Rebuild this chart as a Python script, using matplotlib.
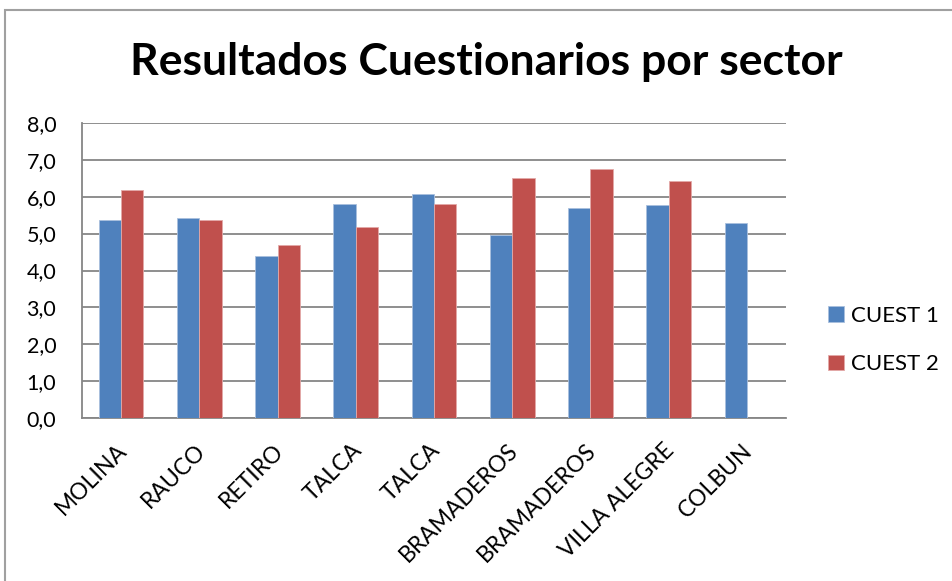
import matplotlib
matplotlib.use("Agg")
import matplotlib.pyplot as plt
import matplotlib.transforms as mtransforms
import numpy as np
from matplotlib.patches import Rectangle

categories = ["MOLINA", "RAUCO", "RETIRO", "TALCA", "TALCA", "BRAMADEROS",
              "BRAMADEROS", "VILLA ALEGRE", "COLBUN"]
cuest1 = [5.37, 5.42, 4.39, 5.79, 6.08, 4.96, 5.68, 5.77, 5.29]
cuest2 = [6.19, 5.37, 4.70, 5.19, 5.79, 6.49, 6.74, 6.41, np.nan]
series_names = ["CUEST 1", "CUEST 2"]
yticks = [0, 1, 2, 3, 4, 5, 6, 7, 8]
title = "Resultados Cuestionarios por sector"

plt.rcParams['font.family'] = ['Lato', 'DejaVu Sans']

W, H = 953, 581
fig = plt.figure(figsize=(W / 100, H / 100), dpi=100)
fig.patch.set_facecolor("white")

# chart-area border
fig.add_artist(Rectangle((5 / W, -0.05), 1.2, 1 - 10 / H + 0.05, transform=fig.transFigure,
                         fill=False, edgecolor="#a0a0a0", linewidth=1.5))

left, right = 82 / W, 786 / W
bottom, top = 1 - 418.3 / H, 1 - 122.7 / H
ax = fig.add_axes([left, bottom, right - left, top - bottom])

x = np.arange(len(categories))
w = 1 / 3.5
blue, red = "#4F81BD", "#C0504D"
ax.bar(x - w / 2, cuest1, w, color=blue, edgecolor="#a9c0de", linewidth=0.6,
       label=series_names[0], zorder=3)
ax.bar(x + w / 2, cuest2, w, color=red, edgecolor="#e3a9a8", linewidth=0.6,
       label=series_names[1], zorder=3)

ax.set_xlim(-0.5, len(categories) - 0.5)
ax.set_ylim(0, 8)
ax.set_yticks(yticks)
ax.set_yticklabels([f"{v:.1f}".replace(".", ",") for v in yticks], fontsize=15.5)
ax.yaxis.grid(True, color="#868686", linewidth=1.3, zorder=0)
ax.set_axisbelow(True)
for s in ["top", "right"]:
    ax.spines[s].set_visible(False)
for s in ["left", "bottom"]:
    ax.spines[s].set_color("#868686")
    ax.spines[s].set_linewidth(1.3)
ax.tick_params(axis="y", length=0, pad=18.5, colors="black")
ax.tick_params(axis="x", length=0, pad=14)
ax.set_xticks(x)
labels = ax.set_xticklabels(categories, rotation=45, ha="right", va="top",
                            rotation_mode="anchor", fontsize=16.5)
off = mtransforms.ScaledTranslation(-5 / 100, -2 / 100, fig.dpi_scale_trans)
for lab in labels:
    lab.set_transform(lab.get_transform() + off)

fig.text(0.5 * (130 + 843) / W, 1 - 62 / H, title, ha="center", va="center",
         fontsize=32, fontweight="bold")

leg = fig.legend(loc="center left", bbox_to_anchor=(808 / W, 1 - 340 / H),
                 frameon=False, fontsize=16, handlelength=0.7, handleheight=0.7,
                 handletextpad=0.35, labelspacing=1.3)

fig.savefig("out.png", dpi=100, facecolor="white")
